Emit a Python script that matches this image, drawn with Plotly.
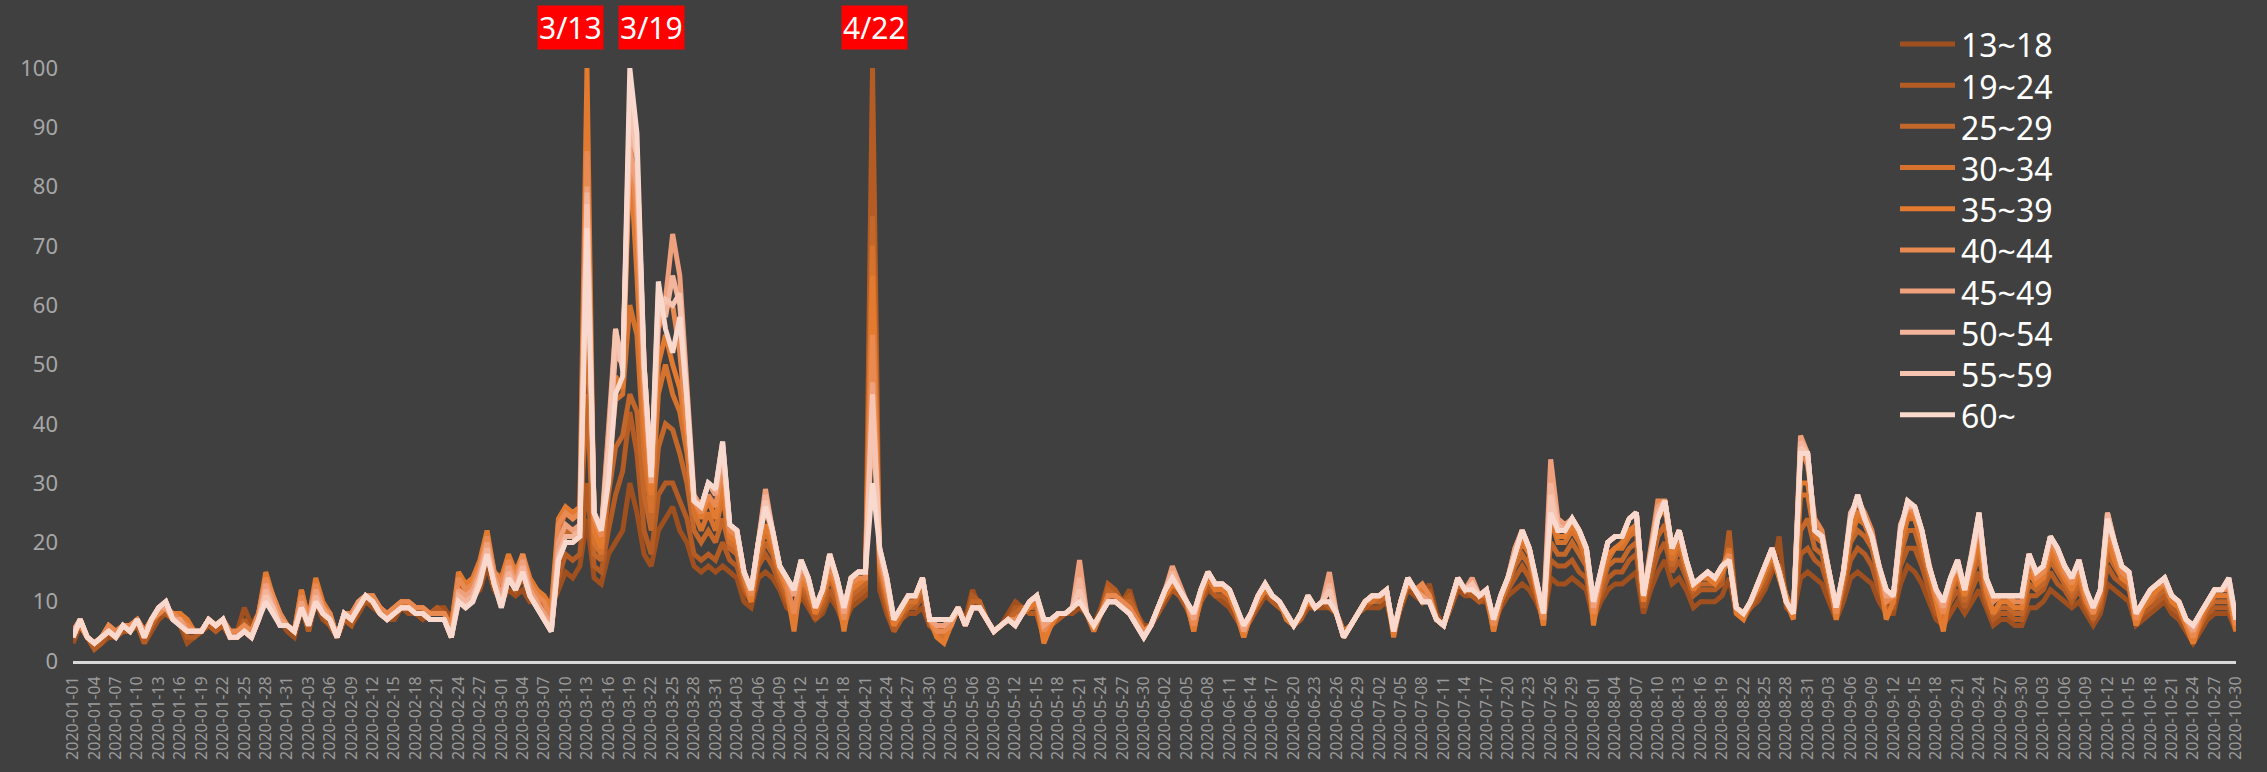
import plotly.graph_objects as go
import pandas as pd

# ---- categories -------------------------------------------------------------
dates = pd.date_range("2020-01-01", "2020-10-30", freq="D").strftime("%Y-%m-%d").tolist()
tick_dates = dates[::3]

groups = ["13~18", "19~24", "25~29", "30~34", "35~39",
          "40~44", "45~49", "50~54", "55~59", "60~"]
colors = ["#A0501E", "#B45C24", "#C4672A", "#D5722E", "#E27A30",
          "#E98A52", "#EFA07C", "#F3B49C", "#F6C5B2", "#F9D8CD"]

peak_dates = ["2020-03-13", "2020-03-19", "2020-04-22"]
peak_labels = ["3/13", "3/19", "4/22"]

# ---- series values (daily index, 2020-01-01 .. 2020-10-30) -------------------
age_13_18 = [
    3,6,4,2,3,4,4,5,5,6, 3,5,7,8,7,6,3,4,5,6, 5,6,4,5,9,6,8,12,9,7, 5,
    4,9,5,10,7,6,4,7,6,8, 10,9,8,7,7,9,8,8,7,8, 9,9,7,12,10,11,12,16,12,
    10,12,11,12,10,10,9,9,12,15, 14,16,24,14,13,18,20,22,30,25, 18,16,22,24,26,22,20,16,15,16, 15,
    16,15,14,10,9,14,15,14,12,9, 8,11,9,7,8,11,9,6,9,10, 11,80,12,8,5,7,8,8,9,6,
    5,4,6,9,7,12,9,7,5,6, 8,10,9,8,8,4,6,7,8,8, 9,8,6,9,13,11,10,12,8,6, 6,
    8,10,12,11,9,6,10,12,11,10, 9,7,5,7,9,11,10,9,8,6, 7,9,9,9,9,8,5,6,8,9,
    9,9,10,5,9,12,11,10,13,8, 6,9,12,11,11,10,10,6,9,11, 12,13,12,10,7,14,13,13,14,13, 12,
    7,10,12,13,13,14,15,8,12,15, 17,13,14,12,9,10,10,10,11,14, 8,7,9,10,12,15,21,9,8,14, 15,
    14,13,10,7,10,14,15,14,13,10, 8,8,13,16,15,13,10,7,6,8, 10,8,10,12,9,6,7,7,6,6,
    9,9,10,12,11,10,9,10,8,6, 8,13,12,11,10,6,7,8,9,10, 8,7,5,3,5,7,8,8,8,5,
]
age_19_24 = [
    4,6,4,2,3,5,4,5,5,6, 3,6,8,8,7,7,4,4,5,6, 5,6,4,4,7,5,8,13,10,7, 6,
    5,10,5,11,8,6,4,7,6,9, 10,10,9,8,8,9,9,8,8,8, 9,8,6,13,11,12,14,19,13,
    11,14,12,14,11,11,9,9,14,18, 17,18,30,16,15,22,28,32,42,35, 22,18,28,30,30,27,24,18,17,18, 17,
    20,17,16,12,10,16,18,16,13,10, 8,12,10,7,9,12,10,6,10,11, 12,100,14,9,5,7,9,9,11,6,
    5,4,6,9,6,11,10,7,5,6, 7,9,9,8,8,4,6,7,8,9, 10,8,6,8,13,12,10,11,8,5, 6,
    8,11,12,11,9,6,10,13,11,11, 10,8,5,7,10,12,10,9,8,6, 7,10,9,10,9,8,5,6,8,9,
    10,10,11,5,9,13,12,10,12,7, 6,9,13,12,11,10,11,6,10,12, 14,16,14,11,7,17,16,16,17,15, 14,
    8,11,14,15,15,17,18,9,14,18, 20,15,17,14,11,12,12,12,13,22, 9,8,9,11,13,16,16,10,8,18, 19,
    17,16,12,8,12,17,19,18,16,12, 9,9,16,19,19,16,12,8,7,10, 12,9,12,15,10,7,8,8,7,7,
    11,11,12,15,13,12,10,12,9,7, 9,16,14,13,12,7,8,9,10,11, 9,8,6,3,6,8,9,9,9,5,
]
age_25_29 = [
    5,6,4,3,4,5,4,6,5,7, 4,6,8,9,8,7,5,5,5,7, 6,7,4,4,6,5,8,13,10,7, 6,
    5,11,6,12,8,7,4,8,7,9, 11,10,9,8,9,10,9,9,9,8, 8,8,6,14,12,12,15,20,14,
    12,15,13,16,12,11,9,8,18,22, 21,22,45,18,17,28,36,38,45,42, 28,22,36,40,39,35,30,22,20,22, 20,
    24,19,18,13,10,17,20,18,14,11, 8,13,11,8,10,14,11,7,11,12, 13,75,15,10,6,8,9,10,12,7,
    6,5,6,9,6,10,10,7,5,6, 7,8,9,9,9,4,6,8,8,9, 10,8,6,8,12,11,10,10,8,5, 6,
    9,11,13,12,10,7,11,14,12,12, 11,8,5,8,10,12,11,10,8,6, 8,10,9,10,10,8,5,6,8,10,
    10,10,11,5,10,13,12,10,11,7, 6,10,13,12,12,11,11,6,10,13, 16,18,16,12,7,20,18,18,20,18, 16,
    8,12,16,17,17,19,20,10,16,21, 23,16,19,15,12,13,13,13,14,19, 9,8,10,12,14,17,16,11,8,22, 24,
    19,18,13,8,13,20,22,21,19,14, 10,10,18,22,22,18,14,10,8,11, 14,10,14,18,11,8,9,9,8,8,
    13,12,13,17,15,13,11,13,10,7, 10,18,16,14,13,7,9,10,11,12, 10,9,6,4,6,9,10,10,10,6,
]
age_30_34 = [
    5,6,4,3,4,6,5,6,6,7, 5,7,8,9,8,8,6,5,5,7, 6,7,5,5,6,5,8,14,11,8, 6,
    5,12,7,13,9,7,4,8,8,10, 11,10,9,8,9,10,10,9,9,8, 8,8,6,14,13,13,16,21,14,
    13,17,14,17,13,12,10,9,22,25, 24,25,60,20,18,32,44,45,60,55, 35,25,45,50,45,42,35,25,22,25, 22,
    28,20,19,14,10,18,22,19,15,12, 6,14,12,8,11,15,12,6,12,13, 14,70,16,11,6,8,10,10,13,7,
    5,4,6,9,6,9,9,7,5,6, 7,7,8,9,10,4,6,8,8,9, 10,8,6,8,11,11,10,9,7,5, 6,
    9,11,13,12,10,5,11,14,12,12, 11,8,4,8,10,12,11,10,7,6, 8,10,9,10,10,8,5,6,8,10,
    10,11,11,5,10,13,12,11,11,7, 6,10,13,12,12,11,11,5,10,13, 17,20,18,12,6,24,20,20,22,20, 17,
    7,13,17,19,19,21,22,10,17,24, 26,17,20,16,12,14,14,13,15,19, 9,8,10,12,15,18,15,11,8,28, 28,
    21,20,14,8,14,21,24,23,20,15, 10,10,19,24,24,20,15,10,6,12, 15,11,15,20,12,8,10,10,9,9,
    15,13,14,18,16,14,12,14,10,8, 11,20,17,14,13,6,9,10,12,13, 10,9,6,3,7,9,11,11,11,6,
]
age_35_39 = [
    5,6,4,3,4,6,5,6,6,7, 5,7,8,9,8,8,7,5,5,7, 6,7,5,5,6,5,8,15,11,8, 6,
    5,12,7,14,10,8,4,8,8,10, 11,11,9,8,9,10,10,9,9,8, 8,8,6,15,13,14,17,22,15,
    14,18,15,18,14,12,11,9,24,26, 25,26,100,22,19,35,48,46,86,65, 40,28,50,55,50,46,38,27,24,27, 24,
    30,21,20,14,10,19,23,20,15,12, 5,14,12,8,11,15,12,5,12,13, 14,65,16,11,6,8,11,11,14,7,
    4,3,6,9,6,9,9,7,5,6, 7,7,8,9,10,3,6,8,8,9, 10,8,5,8,11,11,10,9,7,5, 6,
    9,11,13,12,10,5,11,14,12,12, 11,8,4,8,10,12,11,10,7,6, 8,10,9,10,10,8,4,6,8,10,
    11,11,12,4,10,13,12,12,11,7, 6,10,14,12,12,11,12,5,11,14, 18,21,18,12,6,26,21,21,23,21, 18,
    6,14,18,19,20,22,23,10,18,26, 26,18,21,16,12,14,14,13,15,18, 8,7,10,12,15,18,14,10,7,30, 30,
    22,21,14,7,14,22,25,24,21,15, 7,10,20,25,24,20,15,10,5,12, 15,11,16,21,12,8,10,10,9,9,
    15,13,14,19,17,14,12,15,10,8, 11,21,17,14,13,6,9,11,12,13, 10,9,6,3,7,10,11,11,11,5,
]
age_40_44 = [
    5,7,4,3,4,6,5,6,6,7, 5,7,8,9,8,7,6,5,5,7, 6,7,5,5,6,5,8,14,11,8, 6,
    5,11,7,13,9,8,4,8,8,10, 11,11,9,8,9,10,10,9,9,8, 8,8,5,14,12,13,16,21,15,
    13,17,14,18,13,11,10,7,23,25, 24,25,86,24,21,38,54,50,88,75, 45,30,56,60,60,52,40,27,25,28, 26,
    33,22,21,15,11,20,26,21,16,13, 8,15,13,9,12,16,13,7,13,14, 14,55,17,12,7,9,11,11,14,7,
    5,5,6,9,6,9,9,7,5,6, 7,7,8,10,11,5,7,8,8,9, 12,8,6,8,11,11,10,9,7,5, 6,
    9,12,14,12,10,6,12,15,13,13, 12,9,5,8,11,13,11,10,8,6, 8,11,9,10,12,8,4,6,8,10,
    11,11,12,5,10,14,12,13,11,7, 6,10,14,12,13,11,12,6,11,14, 19,22,19,13,7,29,22,22,24,22, 19,
    8,15,20,21,21,24,25,11,19,27, 27,19,22,17,13,14,15,14,16,18, 9,8,10,13,16,19,15,10,8,36, 33,
    24,22,15,8,15,24,27,25,22,16, 10,11,22,26,25,22,16,11,8,13, 17,12,18,23,13,10,11,11,10,10,
    17,14,15,20,18,15,13,16,11,8, 12,22,19,15,14,7,10,12,13,13, 11,10,7,4,8,10,12,12,12,6,
]
age_45_49 = [
    5,7,4,3,4,5,4,6,5,7, 4,7,9,9,7,7,5,5,5,7, 6,7,4,4,5,4,7,13,10,7, 6,
    5,10,6,12,9,7,4,8,7,10, 11,10,8,7,8,9,9,8,8,7, 7,7,4,12,11,12,15,20,14,
    11,16,13,17,12,10,8,6,20,23, 22,23,80,25,22,40,56,50,86,80, 48,30,60,61,72,65,45,28,26,30, 28,
    35,23,22,15,12,20,29,22,16,14, 11,16,14,9,12,18,14,8,14,15, 15,47,18,13,7,9,11,11,14,7,
    6,6,7,9,6,9,9,7,5,6, 7,6,8,10,11,6,7,8,8,9, 17,8,6,8,10,10,9,8,6,4, 6,
    9,12,16,13,10,7,12,15,13,13, 12,9,5,8,11,13,11,10,8,6, 8,11,9,10,15,8,4,6,8,10,
    11,11,12,5,10,14,12,11,10,7, 6,10,14,12,14,11,12,7,11,14, 19,22,19,13,8,34,24,23,24,22, 19,
    9,15,20,21,21,24,25,11,18,26, 27,19,22,17,13,14,15,14,16,17, 9,8,10,13,16,19,15,10,8,38, 35,
    22,21,15,9,15,24,28,24,21,16, 11,11,22,27,26,22,16,12,9,14, 17,12,18,25,14,11,11,11,11,11,
    18,15,16,21,19,16,14,17,12,9, 12,25,20,16,15,8,10,12,13,14, 11,10,7,5,8,10,12,12,13,7,
]
age_50_54 = [
    4,7,4,3,4,5,4,6,5,7, 4,7,9,10,7,6,5,5,5,7, 6,7,4,4,5,4,7,12,9,6, 6,
    5,9,6,11,8,7,4,8,7,9, 11,10,8,7,8,9,9,8,8,7, 7,7,4,11,10,11,14,19,13,
    10,15,12,16,11,9,7,5,18,21, 21,22,79,25,22,35,52,50,90,85, 50,31,62,58,65,60,45,27,26,30, 29,
    36,23,22,15,12,20,28,22,16,14, 12,17,14,9,12,18,14,9,14,15, 15,41,19,14,7,9,11,11,14,7,
    7,7,7,9,6,9,9,7,5,6, 7,6,8,10,11,7,7,8,8,9, 14,8,6,8,10,10,9,8,6,4, 6,
    9,12,15,12,10,8,12,15,13,13, 12,9,6,8,11,13,11,10,8,6, 8,11,9,10,13,8,4,6,8,10,
    11,11,12,5,10,14,12,10,10,7, 6,10,14,12,13,11,12,7,11,14, 18,22,19,13,8,30,23,22,24,22, 19,
    10,15,20,21,21,24,25,11,18,25, 27,19,22,17,13,14,15,14,16,17, 9,8,10,13,16,19,15,10,8,37, 35,
    22,21,15,9,15,25,27,24,21,16, 12,11,23,26,26,22,16,12,10,14, 16,12,17,24,14,11,11,11,11,11,
    18,15,16,21,19,16,14,17,12,9, 12,25,20,16,15,8,10,12,13,14, 11,10,7,6,8,10,12,12,13,7,
]
age_55_59 = [
    4,7,4,3,4,5,4,6,5,7, 4,7,9,10,7,6,5,5,5,7, 6,7,4,4,5,4,7,11,9,6, 6,
    5,9,6,10,8,7,4,8,7,9, 11,10,8,7,8,9,9,8,8,7, 7,7,4,10,9,10,14,18,13,
    9,14,12,15,11,9,7,5,17,20, 20,21,77,25,22,36,56,49,95,85, 50,31,58,61,60,62,44,27,26,30, 29,
    37,23,22,15,12,20,27,22,16,14, 12,17,14,9,12,18,14,9,14,15, 15,45,19,14,7,9,11,11,14,7,
    7,7,7,9,6,9,9,7,5,6, 7,6,8,10,11,7,7,8,8,9, 12,8,6,8,10,10,9,8,6,4, 6,
    9,12,14,12,10,8,12,15,13,13, 12,9,6,8,11,13,11,10,8,6, 8,11,9,10,12,8,4,6,8,10,
    11,11,12,5,10,14,12,10,10,7, 6,10,14,12,13,11,12,7,11,14, 18,22,19,13,8,28,22,22,24,22, 19,
    10,15,20,21,21,24,25,11,18,24, 27,19,22,17,13,14,15,14,16,17, 9,8,10,13,16,19,15,10,8,36, 35,
    22,21,15,9,15,24,28,24,21,16, 12,11,22,27,26,22,16,12,10,14, 17,12,18,25,14,11,11,11,11,11,
    18,15,16,21,19,16,14,17,12,9, 12,24,20,16,15,8,10,12,13,14, 11,10,7,6,8,10,12,12,14,7,
]
age_60_plus = [
    4,7,4,3,4,5,4,6,5,7, 4,7,9,10,7,6,5,5,5,7, 6,7,4,4,5,4,7,10,8,6, 6,
    5,9,6,10,8,7,4,8,7,9, 11,10,8,7,8,9,9,8,8,7, 7,7,4,10,9,10,13,18,13,
    9,14,12,15,11,9,7,5,17,20, 20,21,73,25,22,30,45,48,100,89, 50,31,64,56,52,58,44,27,26,30, 29,
    37,23,22,15,12,20,26,22,16,14, 12,17,14,9,12,18,14,9,14,15, 15,30,19,14,7,9,11,11,14,7,
    7,7,7,9,6,9,9,7,5,6, 7,6,8,10,11,7,7,8,8,9, 10,8,6,8,10,10,9,8,6,4, 6,
    9,12,14,12,10,8,12,15,13,13, 12,9,6,8,11,13,11,10,8,6, 8,11,9,10,10,8,4,6,8,10,
    11,11,12,5,10,14,12,10,10,7, 6,10,14,12,12,11,12,7,11,14, 18,22,19,13,8,25,22,22,24,22, 19,
    10,15,20,21,21,24,25,11,18,24, 27,19,22,17,13,14,15,14,16,17, 9,8,10,13,16,19,15,10,8,35, 35,
    22,21,15,9,15,24,28,24,21,16, 12,11,22,27,26,22,16,12,10,14, 17,12,18,25,14,11,11,11,11,11,
    18,15,16,21,19,16,14,17,12,9, 12,24,20,16,15,8,10,12,13,14, 11,10,7,6,8,10,12,12,14,7,
]

series = [age_13_18, age_19_24, age_25_29, age_30_34, age_35_39,
          age_40_44, age_45_49, age_50_54, age_55_59, age_60_plus]
for s in series:
    assert len(s) == len(dates), len(s)

# ---- figure -----------------------------------------------------------------
W, H = 2267, 772
ML, MR, MT, MB = 73, 31, 68, 104
PW, PH = W - ML - MR, H - MT - MB

def px_x(x):
    return (x - ML) / PW

def px_y(y):
    return (H - MB - y) / PH

fig = go.Figure()
for name, color, vals in zip(groups, colors, series):
    fig.add_trace(go.Scatter(
        x=dates, y=vals, mode="lines", name=name, showlegend=False,
        line=dict(color=color, width=5),
    ))

annotations = []
shapes = []

# peak labels
shifts = [-16, 22, 2]
for d, lab, sh in zip(peak_dates, peak_labels, shifts):
    annotations.append(dict(
        x=d, xref="x", y=px_y(27.5), yref="paper", text=lab, showarrow=False,
        xshift=sh, xanchor="center", yanchor="middle",
        font=dict(family="Noto Sans", size=30, color="#ffffff"),
        bgcolor="#ff0000", borderpad=1,
    ))

# legend (top right)
for i, (name, color) in enumerate(zip(groups, colors)):
    yc = 43.7 + i * 41.67
    shapes.append(dict(
        type="line", xref="paper", yref="paper",
        x0=px_x(1900), x1=px_x(1955), y0=px_y(yc), y1=px_y(yc),
        line=dict(color=color, width=5),
    ))
    annotations.append(dict(
        x=px_x(1959), y=px_y(yc + 1), xref="paper", yref="paper",
        text=name, showarrow=False, xanchor="left", yanchor="middle",
        font=dict(family="Noto Sans", size=32, color="#ffffff"),
    ))

fig.update_layout(
    width=W, height=H,
    paper_bgcolor="#404040", plot_bgcolor="#404040",
    margin=dict(l=ML, r=MR, t=MT, b=MB, pad=0),
    font=dict(family="Noto Sans", color="#a6a6a6"),
    xaxis=dict(
        type="date", range=[dates[0], dates[-1]],
        tickmode="array", tickvals=tick_dates, ticktext=tick_dates,
        tickangle=-90, tickfont=dict(size=16, color="#9a9a9a"),
        showgrid=False, zeroline=False, showline=True,
        linecolor="#d9d9d9", linewidth=3, ticks="", ticklabelstandoff=6,
    ),
    yaxis=dict(
        range=[0, 100], tick0=0, dtick=10,
        tickfont=dict(size=22, color="#a6a6a6"),
        showgrid=False, zeroline=False, showline=False,
        ticks="", ticklabelstandoff=14,
    ),
    annotations=annotations, shapes=shapes,
    hovermode=False,
)

fig.write_html(
    "out.html",
    config={"displayModeBar": False},
    post_script="document.body.style.margin='0px';document.body.style.overflow='hidden';",
)
